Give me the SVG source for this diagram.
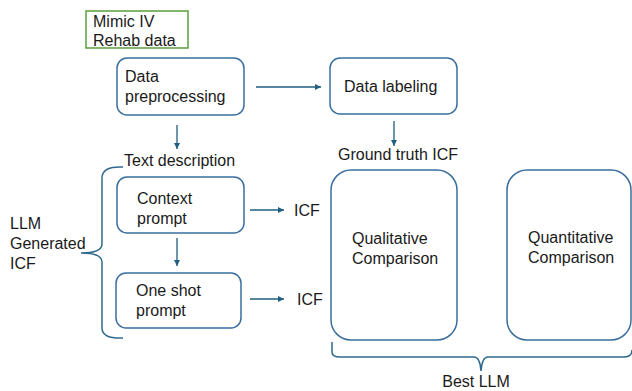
<svg xmlns="http://www.w3.org/2000/svg" width="632" height="391" viewBox="0 0 632 391">
<style>
text{font-family:"Liberation Sans",Arial,sans-serif;font-size:16px;fill:#1a1a1a}
.box{fill:#fff;stroke:#3A6E9E;stroke-width:1.5}
.conn{stroke:#1F5F80;stroke-width:1.3;fill:none}
.brace{stroke:#2F6A8E;stroke-width:1.5;fill:none}
</style>
<defs>
<marker id="ah" markerWidth="8" markerHeight="8" refX="6" refY="3" orient="auto" markerUnits="userSpaceOnUse">
<path d="M0,0 L6,3 L0,6 z" fill="#1F5F80"/>
</marker>
</defs>
<rect width="632" height="391" fill="#fff"/>
<g id="mimic">
<rect x="86" y="11" width="102" height="37" fill="#fff" stroke="#5A9E3A" stroke-width="1.5"/>
<text x="93" y="27">Mimic IV</text>
<text x="93" y="46">Rehab data</text>
</g>
<g id="preprocessing">
<rect class="box" x="117" y="58" width="127" height="57" rx="10"/>
<text x="125" y="82">Data</text>
<text x="125" y="102">preprocessing</text>
</g>
<g id="labeling">
<rect class="box" x="330" y="58" width="127" height="56" rx="10"/>
<text x="344" y="92">Data labeling</text>
</g>
<g id="textdesc"><text x="124" y="166">Text description</text></g>
<g id="groundtruth"><text x="338" y="160">Ground truth ICF</text></g>
<g id="context">
<rect class="box" x="117" y="177" width="127" height="56" rx="10"/>
<text x="137" y="204">Context</text>
<text x="137" y="224">prompt</text>
</g>
<g id="oneshot">
<rect class="box" x="116" y="273" width="125" height="55" rx="10"/>
<text x="136" y="296">One shot</text>
<text x="136" y="316">prompt</text>
</g>
<g id="icf1"><text x="294" y="216">ICF</text></g>
<g id="icf2"><text x="297" y="305">ICF</text></g>
<g id="qualitative">
<rect class="box" x="331" y="170" width="126" height="170" rx="20"/>
<text x="352" y="244">Qualitative</text>
<text x="352" y="264">Comparison</text>
</g>
<g id="quantitative">
<rect class="box" x="507" y="170" width="124" height="170" rx="20"/>
<text x="528" y="243">Quantitative</text>
<text x="528" y="263">Comparison</text>
</g>
<g id="llmgen">
<text x="10" y="229">LLM</text>
<text x="10" y="249">Generated</text>
<text x="10" y="269">ICF</text>
</g>
<g id="bestllm"><text x="476" y="387" text-anchor="middle">Best LLM</text></g>
<g id="connectors">
<line class="conn" x1="256" y1="87" x2="321" y2="87" marker-end="url(#ah)"/>
<line class="conn" x1="177" y1="125" x2="177" y2="149" marker-end="url(#ah)"/>
<line class="conn" x1="394" y1="121" x2="394" y2="146" marker-end="url(#ah)"/>
<line class="conn" x1="250" y1="210" x2="284" y2="210" marker-end="url(#ah)"/>
<line class="conn" x1="177" y1="238" x2="177" y2="266" marker-end="url(#ah)"/>
<line class="conn" x1="250" y1="299" x2="284" y2="299" marker-end="url(#ah)"/>
<path class="brace" d="M123,167 Q102,166 102,178 L102,244 Q102,253 81,253 Q102,253 102,262 L102,328 Q102,339 123,338"/>
<path class="brace" d="M332,342 L332,352 Q332,357 340,357 L474,357 Q480,357 481,371 Q482,357 488,357 L624,357 Q632,357 632,350"/>
</g>
</svg>
